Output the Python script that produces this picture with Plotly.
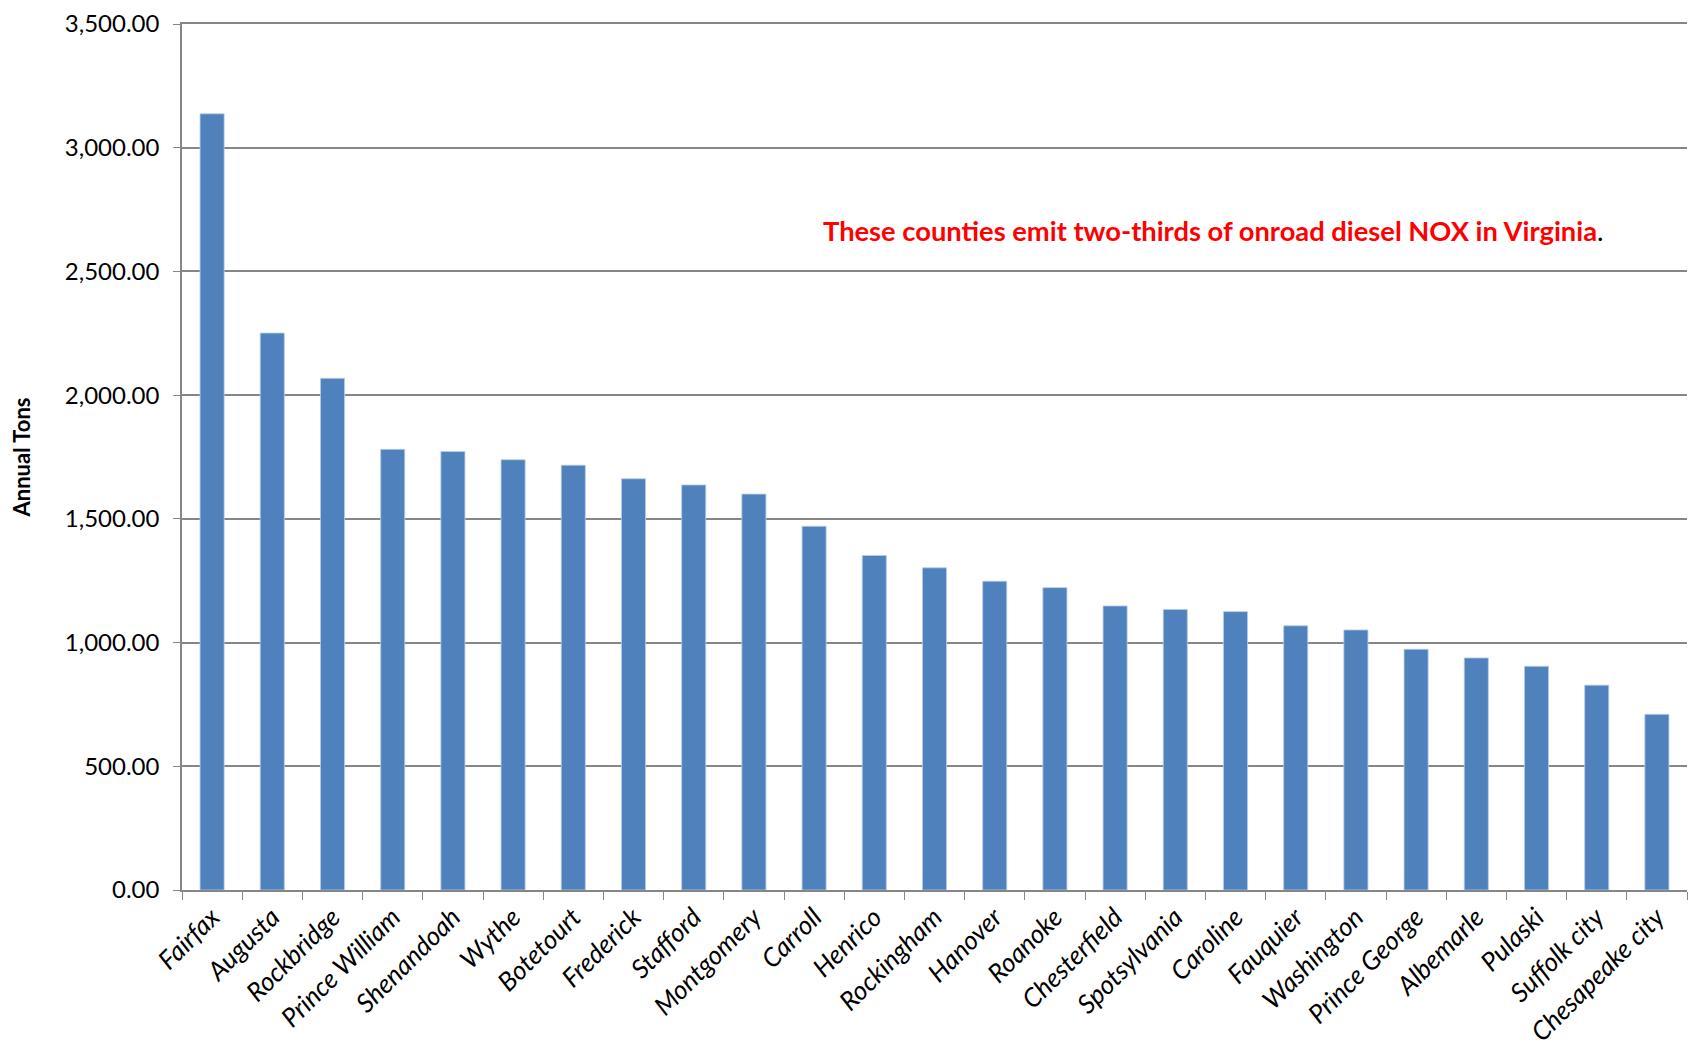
import plotly.graph_objects as go

counties = ["Fairfax", "Augusta", "Rockbridge", "Prince William", "Shenandoah", "Wythe",
            "Botetourt", "Frederick", "Stafford", "Montgomery", "Carroll", "Henrico",
            "Rockingham", "Hanover", "Roanoke", "Chesterfield", "Spotsylvania", "Caroline",
            "Fauquier", "Washington", "Prince George", "Albemarle", "Pulaski",
            "Suffolk city", "Chesapeake city"]
annual_tons = [3137, 2251, 2068, 1781, 1772, 1739, 1717, 1662, 1637, 1600, 1470, 1352,
               1302, 1248, 1222, 1148, 1134, 1125, 1068, 1051, 973, 938, 904, 828, 710]
y_ticks = [0, 500, 1000, 1500, 2000, 2500, 3000, 3500]

FONT = "Lato"

fig = go.Figure()
fig.add_trace(go.Bar(
    x=counties, y=annual_tons, width=0.4,
    marker=dict(color="#4F81BD", line=dict(color="#B9CDE5", width=0.8)),
))

fig.update_layout(
    width=1696, height=1048,
    margin=dict(l=174, r=17, t=16, b=166),
    paper_bgcolor="white", plot_bgcolor="white",
    showlegend=False,
    font=dict(family=FONT, size=24, color="black"),
    xaxis=dict(
        type="category",
        automargin=False,
        tickangle=-45,
        tickfont=dict(family=FONT, size=26, style="italic"),
        ticks="outside", tickson="boundaries", ticklen=8, tickcolor="#868686",
        showline=True, linecolor="#868686", linewidth=1.5, mirror=True,
        showgrid=False,
        range=[-0.5, len(counties) - 0.5],
    ),
    yaxis=dict(
        automargin=False,
        range=[0, 3500],
        tickvals=y_ticks,
        tickformat=",.2f",
        ticks="outside", ticklen=7, tickcolor="#868686",
        ticklabelstandoff=9,
        ticklabeloverflow="allow",
        showline=True, linecolor="#868686", linewidth=1.5,
        showgrid=True, gridcolor="#868686", gridwidth=1.5,
        zeroline=False,
        title=dict(text="<b>Annual Tons</b>", font=dict(family=FONT, size=22), standoff=36),
    ),
)

fig.add_annotation(
    xref="paper", yref="y", x=0.685, y=2666,
    text="<b><span style='color:#FF0000'>These counties emit two-thirds of onroad diesel NOX in Virginia</span></b>.",
    showarrow=False, font=dict(family=FONT, size=27.3, color="black"),
    xanchor="center", yanchor="middle",
)

fig.write_html("out.html")
